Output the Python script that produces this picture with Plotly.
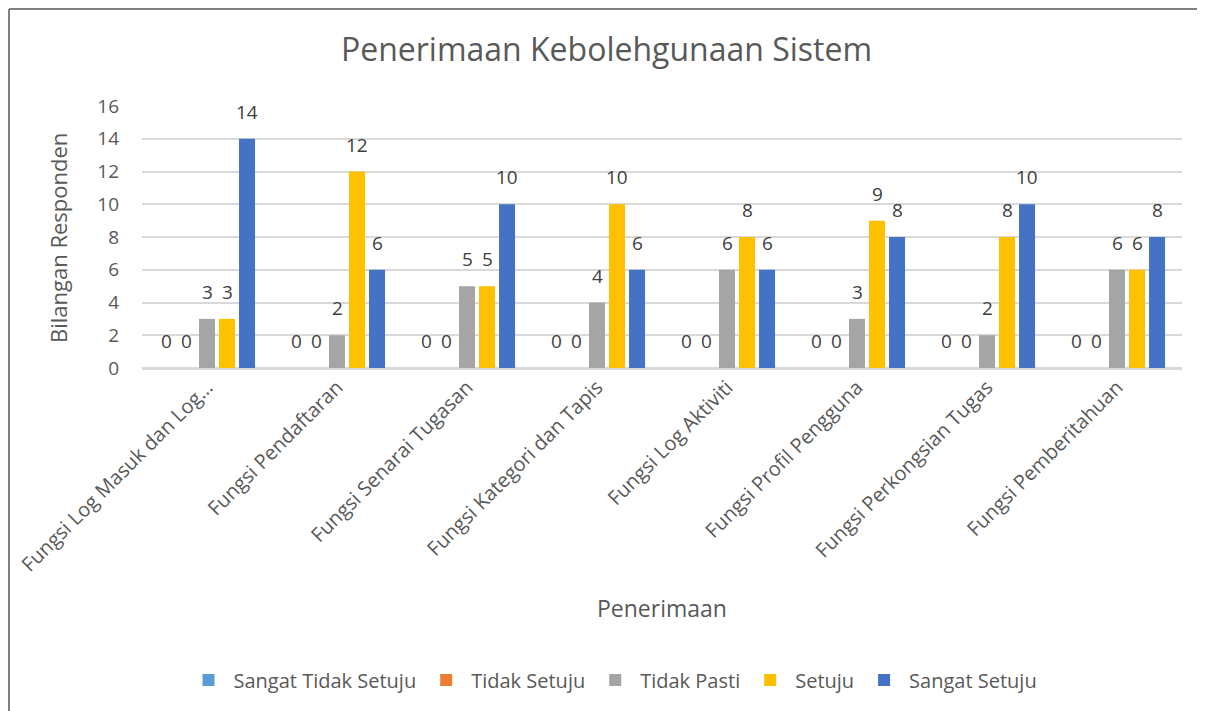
import plotly.graph_objects as go

categories = [
    "Fungsi Log Masuk dan Log…",
    "Fungsi Pendaftaran",
    "Fungsi Senarai Tugasan",
    "Fungsi Kategori dan Tapis",
    "Fungsi Log Aktiviti",
    "Fungsi Profil Pengguna",
    "Fungsi Perkongsian Tugas",
    "Fungsi Pemberitahuan",
]
series_names = ["Sangat Tidak Setuju", "Tidak Setuju", "Tidak Pasti", "Setuju", "Sangat Setuju"]
sangat_tidak_setuju = [0, 0, 0, 0, 0, 0, 0, 0]
tidak_setuju = [0, 0, 0, 0, 0, 0, 0, 0]
tidak_pasti = [3, 2, 5, 4, 6, 3, 2, 6]
setuju = [3, 12, 5, 10, 8, 9, 8, 6]
sangat_setuju = [14, 6, 10, 6, 6, 8, 10, 8]
y_ticks = [0, 2, 4, 6, 8, 10, 12, 14, 16]

colors = ["#5B9BD5", "#ED7D31", "#A5A5A5", "#FFC000", "#4472C4"]
values = [sangat_tidak_setuju, tidak_setuju, tidak_pasti, setuju, sangat_setuju]

FONT = "Open Sans"
TXT = "#595959"

# page body has an 8px margin in the browser
OFF = 8
W, H = 1205 - OFF, 711 - OFF
L, R, T, B = 134, 23, 98, 343
pw, ph = W - L - R, H - T - B

def px(x_ref):
    return (x_ref - OFF - L) / pw

def py(y_ref):
    return (H - B - (y_ref - OFF)) / ph

BARGAP = 0.23
GROUPGAP = 0.2
n_series = len(series_names)
slot_px = pw / len(categories) * (1 - BARGAP) / n_series

fig = go.Figure()
annotations = []
for i, (name, vals, col) in enumerate(zip(series_names, values, colors)):
    fig.add_trace(go.Bar(
        name=name, x=categories, y=vals, marker_color=col, marker_line_width=0,
    ))
    shift = (i - (n_series - 1) / 2) * slot_px
    for cat, v in zip(categories, vals):
        annotations.append(dict(
            text=str(v), x=cat, y=v, xref="x", yref="y", showarrow=False,
            xanchor="center", yanchor="bottom", xshift=shift, yshift=12,
            font=dict(family=FONT, size=19, color="#404040"),
        ))

annotations += [
    dict(text="Penerimaan", xref="paper", yref="paper", x=px(662), y=py(608),
         xanchor="center", yanchor="middle", showarrow=False,
         font=dict(family=FONT, size=23, color=TXT)),
    dict(text="Bilangan Responden", xref="paper", yref="paper", x=px(58), y=py(238),
         xanchor="center", yanchor="middle", showarrow=False, textangle=-90,
         font=dict(family=FONT, size=22, color=TXT)),
]

border = dict(color="#808080", width=2)
fig.update_layout(
    width=W, height=H,
    margin=dict(l=L, r=R, t=T, b=B, autoexpand=False),
    paper_bgcolor="white", plot_bgcolor="white",
    barmode="group", bargap=BARGAP, bargroupgap=GROUPGAP,
    font=dict(family=FONT, color=TXT),
    title=dict(text="Penerimaan Kebolehgunaan Sistem", x=0.5, xanchor="center",
               y=1 - (50 - OFF) / H, yanchor="middle",
               font=dict(family=FONT, size=32, color=TXT)),
    xaxis=dict(
        tickangle=-45, tickfont=dict(family=FONT, size=20, color=TXT),
        showgrid=False, showline=True, linecolor="#d9d9d9", linewidth=1.5, ticks="",
        ticklabelstandoff=-2,
    ),
    yaxis=dict(
        range=[0, 16], tickvals=y_ticks, showgrid=True, gridcolor="#d9d9d9", gridwidth=1.5,
        zeroline=True, zerolinecolor="#d9d9d9", zerolinewidth=1.5,
        tickfont=dict(family=FONT, size=19, color=TXT), ticklabelstandoff=22,
    ),
    legend=dict(orientation="h", x=px(613), xanchor="center", y=py(680), yanchor="middle",
                font=dict(family=FONT, size=20, color=TXT), itemwidth=40,
                traceorder="normal"),
    annotations=annotations,
    shapes=[
        dict(type="line", xref="paper", yref="paper",
             x0=px(OFF + 1), x1=px(1210), y0=py(OFF + 1), y1=py(OFF + 1), line=border),
        dict(type="line", xref="paper", yref="paper",
             x0=px(OFF + 1), x1=px(OFF + 1), y0=py(OFF + 1), y1=py(720), line=border),
    ],
)

fig.write_html("out.html")
